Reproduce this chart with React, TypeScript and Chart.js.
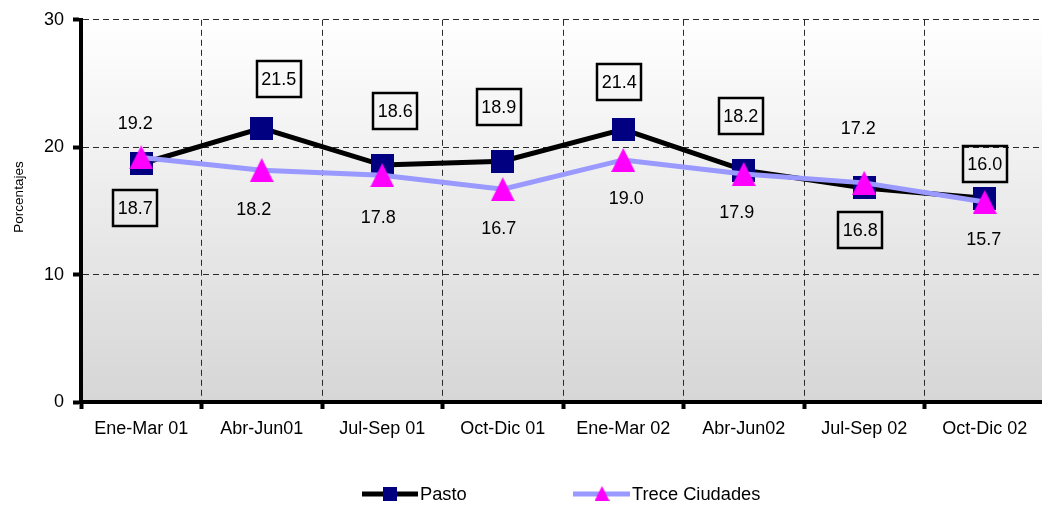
import React, { useEffect, useRef } from "react";
import { Chart, registerables } from "chart.js";

Chart.register(...registerables);

const categories = [
  "Ene-Mar 01",
  "Abr-Jun01",
  "Jul-Sep 01",
  "Oct-Dic 01",
  "Ene-Mar 02",
  "Abr-Jun02",
  "Jul-Sep 02",
  "Oct-Dic 02",
];
const pasto = [18.7, 21.5, 18.6, 18.9, 21.4, 18.2, 16.8, 16.0];
const treceCiudades = [19.2, 18.2, 17.8, 16.7, 19.0, 17.9, 17.2, 15.7];
const seriesNames = ["Pasto", "Trece Ciudades"];
const yAxisTitle = "Porcentajes";
const yMin = 0;
const yMax = 30;
const yStep = 10;

// label placement (style): [dx, dy] from each point, in pixels
const pastoLabelOffsets = [
  [-6, 44], [17, -49], [13, -54], [-4, -54], [-4, -47], [-3, -54], [-4, 42], [0, -34],
];
const treceLabelOffsets = [
  [-6, -34], [-8, 39], [-4, 42], [-4, 39], [3, 38], [-7, 38], [-6, -55], [-1, 37],
];

const FONT = '"Liberation Sans", Arial, sans-serif';
const PASTO_LINE = "#000000";
const PASTO_MARK = "#000080";
const TRECE_LINE = "#9999ff";
const TRECE_MARK = "#ff00ff";
const GRID = "#2a2a2a";

function makeSquare(size: number, color: string) {
  const c = document.createElement("canvas");
  c.width = size;
  c.height = size;
  const g = c.getContext("2d")!;
  g.fillStyle = color;
  g.fillRect(0, 0, size, size);
  return c;
}

function makeTriangle(w: number, h: number, color: string) {
  const c = document.createElement("canvas");
  c.width = w;
  c.height = h;
  const g = c.getContext("2d")!;
  g.fillStyle = color;
  g.beginPath();
  g.moveTo(w / 2, 0);
  g.lineTo(w, h);
  g.lineTo(0, h);
  g.closePath();
  g.fill();
  return c;
}

export default function App() {
  const canvasRef = useRef<HTMLCanvasElement | null>(null);

  useEffect(() => {
    const canvas = canvasRef.current;
    if (!canvas) return;

    const square = makeSquare(23, PASTO_MARK);
    const triangle = makeTriangle(24, 24, TRECE_MARK);
    const legendSquare = makeSquare(14, PASTO_MARK);
    const legendTriangle = makeTriangle(15, 15, TRECE_MARK);

    const backgroundPlugin = {
      id: "plotBackground",
      beforeDraw(chart: any) {
        const { ctx, chartArea } = chart;
        const { left, top, right, bottom } = chartArea;
        const grad = ctx.createLinearGradient(0, top, 0, bottom);
        grad.addColorStop(0, "#ffffff");
        grad.addColorStop(1, "#d6d6d6");
        ctx.save();
        ctx.fillStyle = grad;
        ctx.fillRect(left, top, right - left, bottom - top);
        ctx.restore();
      },
    };

    const labelsPlugin = {
      id: "valueLabels",
      afterDatasetsDraw(chart: any) {
        const ctx = chart.ctx;
        ctx.save();
        ctx.font = `18px ${FONT}`;
        ctx.textAlign = "center";
        ctx.textBaseline = "middle";
        ctx.fillStyle = "#000";
        chart.data.datasets.forEach((ds: any, di: number) => {
          const meta = chart.getDatasetMeta(di);
          const boxed = ds.label === seriesNames[0];
          const offs = boxed ? pastoLabelOffsets : treceLabelOffsets;
          meta.data.forEach((pt: any, i: number) => {
            const x = pt.x + offs[i][0];
            const y = pt.y + offs[i][1];
            const text = Number(ds.data[i]).toFixed(1);
            if (boxed) {
              ctx.lineWidth = 2.5;
              ctx.strokeStyle = "#000";
              ctx.strokeRect(Math.round(x - 22), Math.round(y - 18), 44, 36);
            }
            ctx.fillText(text, x, y + 1);
          });
        });
        ctx.restore();
      },
    };

    const extrasPlugin = {
      id: "extras",
      afterDraw(chart: any) {
        const ctx = chart.ctx;
        ctx.save();
        // y axis title
        ctx.font = `13.5px ${FONT}`;
        ctx.fillStyle = "#000";
        ctx.textAlign = "center";
        ctx.textBaseline = "middle";
        ctx.translate(19, 197);
        ctx.rotate(-Math.PI / 2);
        ctx.fillText(yAxisTitle, 0, 0);
        ctx.restore();

        // legend
        ctx.save();
        const ly = 494;
        ctx.lineWidth = 5;
        ctx.strokeStyle = PASTO_LINE;
        ctx.beginPath();
        ctx.moveTo(362, ly);
        ctx.lineTo(418, ly);
        ctx.stroke();
        ctx.drawImage(legendSquare, 390 - 7, ly - 7);
        ctx.strokeStyle = TRECE_LINE;
        ctx.beginPath();
        ctx.moveTo(573, ly);
        ctx.lineTo(630, ly);
        ctx.stroke();
        ctx.drawImage(legendTriangle, 602 - 7.5, ly - 8);
        ctx.font = `18.3px ${FONT}`;
        ctx.fillStyle = "#000";
        ctx.textAlign = "left";
        ctx.textBaseline = "middle";
        ctx.fillText(seriesNames[0], 420, ly + 1);
        ctx.fillText(seriesNames[1], 632, ly + 1);
        ctx.restore();
      },
    };

    const chart = new Chart(canvas, {
      type: "line",
      data: {
        labels: categories,
        datasets: [
          {
            label: seriesNames[0],
            data: pasto,
            borderColor: PASTO_LINE,
            backgroundColor: PASTO_MARK,
            borderWidth: 5,
            pointStyle: square as any,
            pointRadius: 12,
            tension: 0,
            order: 2,
          },
          {
            label: seriesNames[1],
            data: treceCiudades,
            borderColor: TRECE_LINE,
            backgroundColor: TRECE_MARK,
            borderWidth: 5,
            pointStyle: triangle as any,
            pointRadius: 12,
            tension: 0,
            order: 1,
          },
        ],
      },
      options: {
        responsive: false,
        animation: false,
        events: [],
        layout: { padding: { left: 0, top: 19, right: 15, bottom: 54 } },
        plugins: {
          legend: { display: false },
          tooltip: { enabled: false },
          title: { display: false },
        },
        scales: {
          x: {
            type: "category",
            offset: true,
            grid: {
              offset: true,
              color: GRID,
              lineWidth: 1,
              tickLength: 7,
              tickWidth: 4,
              tickColor: "#000",
            },
            border: { display: true, color: "#000", width: 4, dash: [6, 4] },
            ticks: {
              color: "#000",
              font: { family: FONT, size: 18 },
              padding: 9,
              maxRotation: 0,
              autoSkip: false,
            },
            afterFit(scale: any) {
              scale.height = 50;
            },
          },
          y: {
            min: yMin,
            max: yMax,
            grid: {
              color: GRID,
              lineWidth: 1,
              tickLength: 8,
              tickWidth: 4,
              tickColor: "#000",
            },
            border: { display: true, color: "#000", width: 4, dash: [6, 4] },
            ticks: {
              stepSize: yStep,
              color: "#000",
              font: { family: FONT, size: 18 },
              padding: 9,
            },
            afterFit(scale: any) {
              scale.width = 81;
            },
          },
        },
      },
      plugins: [backgroundPlugin, labelsPlugin, extrasPlugin],
    } as any);

    return () => chart.destroy();
  }, []);

  return (
    <div
      style={{
        position: "absolute",
        left: 0,
        top: 0,
        width: 1042,
        height: 506,
        overflow: "hidden",
        background: "#ffffff",
      }}
    >
      <canvas ref={canvasRef} width={1062} height={506} style={{ display: "block" }} />
    </div>
  );
}
